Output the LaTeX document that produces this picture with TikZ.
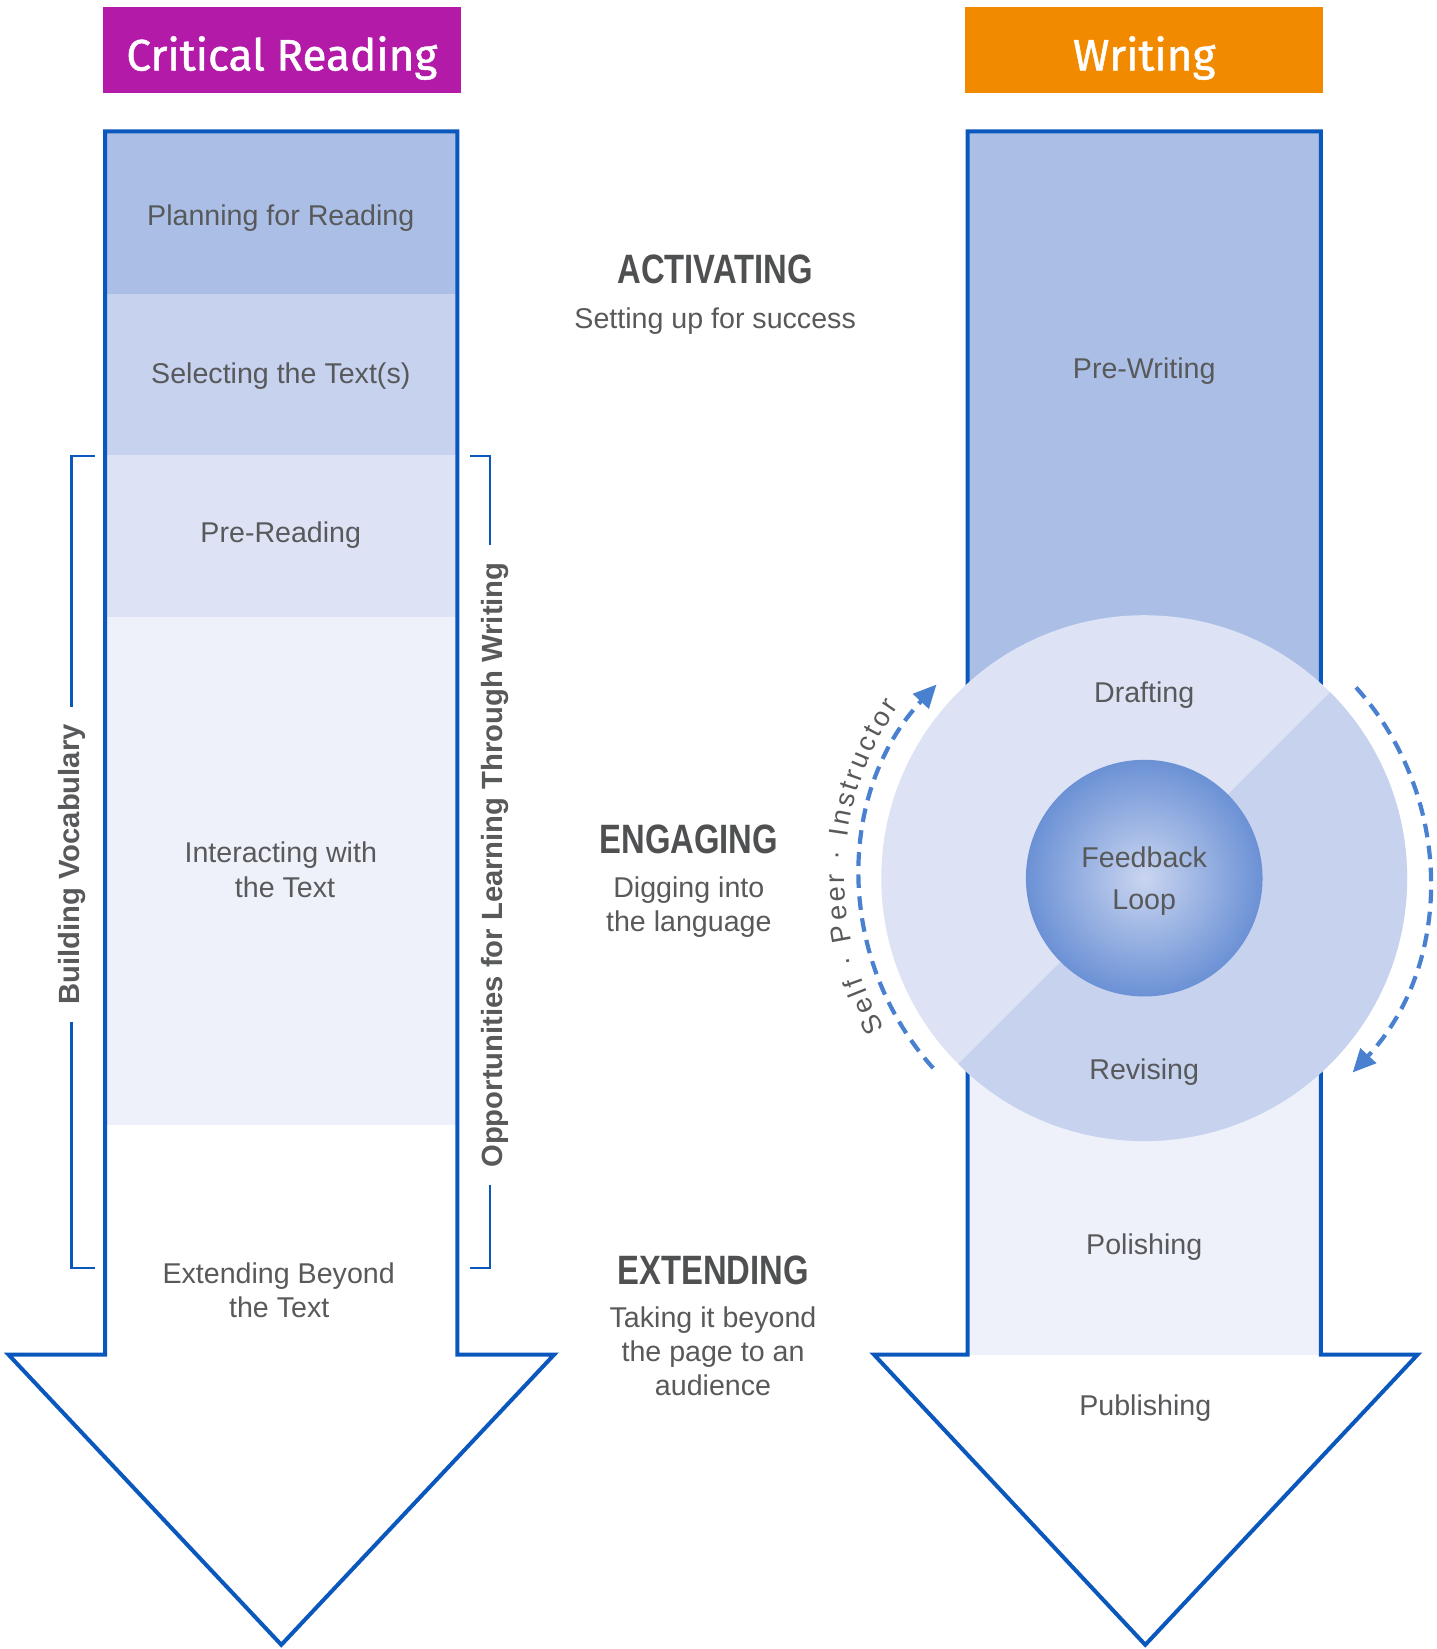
\documentclass[tikz,border=0pt]{standalone}
\usepackage{fontspec}
\setmainfont{Liberation Sans}
\newfontfamily\headfont{Liberation Sans}[FakeStretch=0.8]
\newfontfamily\titlefont{Fira Sans}[FakeBold=1.2]
\usetikzlibrary{arrows.meta,decorations.text}
\definecolor{outline}{HTML}{0A57BD}
\definecolor{bandA}{HTML}{ABBFE6}
\definecolor{bandB}{HTML}{C6D2EE}
\definecolor{bandC}{HTML}{DDE3F5}
\definecolor{bandD}{HTML}{EEF1FA}
\definecolor{txt}{HTML}{58595B}
\definecolor{headc}{HTML}{4F5052}
\definecolor{dashblue}{HTML}{4A80D0}
\definecolor{purp}{HTML}{B31AA8}
\definecolor{orng}{HTML}{F28A00}
\definecolor{ballin}{HTML}{CAD5F0}
\definecolor{ballout}{HTML}{6B91D5}
\begin{document}
\begin{tikzpicture}[x=0.5pt,y=0.5pt,
  lbl/.style={text=txt, font=\fontsize{13.6}{16}\selectfont, inner sep=0pt, anchor=base},
  hd/.style={text=headc, font=\headfont\bfseries\fontsize{19.5}{22}\selectfont, inner sep=0pt, anchor=base},
  vlab/.style={text=txt, font=\bfseries\fontsize{13.9}{16}\selectfont, rotate=90, anchor=base, inner xsep=8pt, inner ysep=0pt},
  titlebox/.style={minimum width=170pt, minimum height=40.5pt, inner sep=0pt, text=white,
     font=\titlefont\fontsize{20.9}{24}\selectfont, text height=19.5pt, text depth=0pt},
  arrowline/.style={draw=outline, line width=1.9pt, line join=miter},
  brk/.style={draw=outline, line width=1pt},
  dasharc/.style={draw=dashblue, line width=2pt, dash pattern=on 6.5pt off 4pt, -{Triangle[length=11pt,width=10pt]}}
]
\useasboundingbox (0,0) rectangle (1366,-1568);

% titles
\node[titlebox, fill=purp] (crt) at (268,-47.5) {Critical Reading};
\node[titlebox, fill=orng] (wrt) at (1088,-47.5) {Writing};

% left column bands
\fill[bandA] (100,-125) rectangle (435,-280);
\fill[bandB] (100,-280) rectangle (435,-433);
\fill[bandC] (100,-433) rectangle (435,-587);
\fill[bandD] (100,-587) rectangle (435,-1070);
\draw[arrowline] (100,-125) -- (100,-1288) -- (8,-1288) -- (267.5,-1564) -- (527,-1288) -- (435,-1288) -- (435,-125) -- cycle;

% right column bands
\fill[bandA] (920,-125) rectangle (1256,-835);
\fill[bandD] (920,-835) rectangle (1256,-1288);
\draw[arrowline] (920,-125) -- (920,-1288) -- (831,-1288) -- (1089,-1564) -- (1348,-1288) -- (1256,-1288) -- (1256,-125) -- cycle;

% feedback circle
\coordinate (C) at (1088,-835);
\fill[bandC] (C) circle[radius=250];
\fill[bandB] ([shift={(45:250)}]C) arc[start angle=45, end angle=-135, radius=250] -- cycle;
\node[circle, minimum size=112.5pt, inner sep=0pt, inner color=ballin, outer color=ballout] (ball) at (C) {};
\node[text=txt, align=center, inner sep=0pt, font=\fontsize{13.6}{20}\selectfont, yshift=-1.5pt] (fbtxt) at (ball.center) {Feedback\\Loop};

% dashed feedback arrows
\draw[dasharc] ([shift={(222:270)}]C) arc[start angle=222, end angle=137, radius=270];
\draw[dasharc] ([shift={(42:271)}]C) arc[start angle=42, end angle=-43, radius=271];
\path[decorate, decoration={text along path, text color=txt,
   text={|\fontsize{13}{15}\selectfont|Self · Peer · Instructor}, text align=fit to path}]
   ([shift={(210:285)}]C) arc[start angle=210, end angle=145, radius=285];

% left labels
\node[lbl] (plan) at (267,-214.5) {Planning for Reading};
\node[lbl] (sel) at (267,-365) {Selecting the Text(s)};
\node[lbl] (prer) at (267,-516) {Pre-Reading};
\node[lbl] (int1) at (267,-820) {Interacting with};
\node[lbl] (int2) at (271,-853) {the Text};
\node[lbl] (ext1) at (265,-1220) {Extending Beyond};
\node[lbl] (ext2) at (265.5,-1253) {the Text};

% right labels
\node[lbl] (prew) at (1088,-360) {Pre-Writing};
\node[lbl] (draft) at (1088,-668) {Drafting};
\node[lbl] (rev) at (1088,-1026) {Revising};
\node[lbl] (pol) at (1088,-1193) {Polishing};
\node[lbl] (pub) at (1089,-1346) {Publishing};

% middle
\node[hd] (act) at (680,-270) {ACTIVATING};
\node[lbl] (act1) at (680,-312) {Setting up for success};
\node[hd] (eng) at (655,-812) {ENGAGING};
\node[lbl] (eng1) at (655,-853) {Digging into};
\node[lbl] (eng2) at (655,-886) {the language};
\node[hd] (extd) at (678,-1221) {EXTENDING};
\node[lbl] (extd1) at (678,-1262) {Taking it beyond};
\node[lbl] (extd2) at (678,-1295) {the page to an};
\node[lbl] (extd3) at (678,-1327) {audience};

% brackets
\coordinate (lbx) at (68,0);
\coordinate (rbx) at (466,0);
\coordinate (lbT) at (90,-434);
\coordinate (lbB) at (90,-1206);
\coordinate (rbT) at (447,-434);
\coordinate (rbB) at (447,-1206);
\node[vlab] (bv) at (76,-822) {Building Vocabulary};
\node[vlab] (opp) at (477.5,-822.5) {Opportunities for Learning Through Writing};
\draw[brk] (lbT) -- (68,-434) -- (bv.east -| lbx);
\draw[brk] (lbB) -- (68,-1206) -- (bv.west -| lbx);
\draw[brk] (rbT) -- (466,-434) -- (opp.east -| rbx);
\draw[brk] (rbB) -- (466,-1206) -- (opp.west -| rbx);
\end{tikzpicture}
\end{document}
